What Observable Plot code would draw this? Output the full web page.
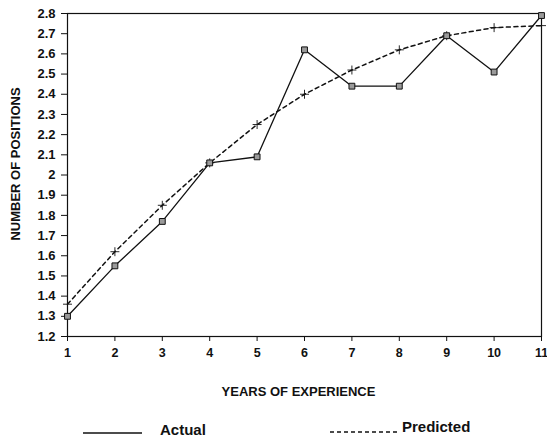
<!DOCTYPE html>
<html>
<head>
<meta charset="utf-8">
<script src="https://cdn.jsdelivr.net/npm/d3@7"></script>
<script src="https://cdn.jsdelivr.net/npm/@observablehq/plot@0.6"></script>
<style>
  html, body { margin: 0; padding: 0; background: #fff; }
  #wrap { position: relative; width: 547px; height: 438px; font-family: "Liberation Sans", Arial, sans-serif; }
  .lg { position: absolute; font-weight: bold; font-size: 15px; color: #111; }
  #wrap svg g[aria-label="y-axis tick label"] text { font-size: 13px; }
</style>
</head>
<body>
<div id="wrap"></div>
<script>
const years = [1, 2, 3, 4, 5, 6, 7, 8, 9, 10, 11];
const actual = [1.30, 1.55, 1.77, 2.06, 2.09, 2.62, 2.44, 2.44, 2.69, 2.51, 2.79];
const predicted = [1.36, 1.62, 1.85, 2.06, 2.25, 2.40, 2.52, 2.62, 2.69, 2.73, 2.74];
const yTicks = [1.2, 1.3, 1.4, 1.5, 1.6, 1.7, 1.8, 1.9, 2.0, 2.1, 2.2, 2.3, 2.4, 2.5, 2.6, 2.7, 2.8];
const xTicks = [1, 2, 3, 4, 5, 6, 7, 8, 9, 10, 11];
const xTitle = "YEARS OF EXPERIENCE";
const yTitle = "NUMBER OF POSITIONS";
const seriesNames = ["Actual", "Predicted"];

const actualData = years.map((x, i) => ({x, y: actual[i]}));
const predData = years.map((x, i) => ({x, y: predicted[i]}));

const chart = Plot.plot({
  width: 547,
  height: 410,
  marginLeft: 67,
  marginRight: 6,
  marginTop: 13,
  marginBottom: 74,
  style: {fontFamily: "'Liberation Sans', Arial, sans-serif", fontSize: "12.5px", fontWeight: "bold", color: "#111", background: "#fff"},
  x: {domain: [1, 11], ticks: xTicks, tickSize: 5, tickPadding: 7, label: null, tickFormat: d => String(d)},
  y: {domain: [1.2, 2.8], ticks: yTicks, tickSize: 6, tickPadding: 6, label: null, tickFormat: d => String(+d.toFixed(1))},
  marks: [
    Plot.frame({stroke: "#111", strokeWidth: 1.2}),
    Plot.line(predData, {x: "x", y: "y", stroke: "#111", strokeWidth: 1.5, strokeDasharray: "4,3.5", curve: "linear"}),
    Plot.dot(predData, {x: "x", y: "y", symbol: "plus", r: 3, stroke: "#111", strokeWidth: 0.9}),
    Plot.line(actualData, {x: "x", y: "y", stroke: "#111", strokeWidth: 1.3}),
    Plot.dot(actualData, {x: "x", y: "y", symbol: "square", r: 3.3, fill: "#9a9a9a", stroke: "#111", strokeWidth: 1}),
    Plot.text([xTitle], {frameAnchor: "bottom", dx: -6, dy: 59, text: d => d, fontSize: 13, fontWeight: "bold", fill: "#111"}),
    Plot.text([yTitle], {frameAnchor: "left", textAnchor: "middle", dx: -52, dy: -11, rotate: -90, text: d => d, fontSize: 13, fontWeight: "bold", fill: "#111"})
  ]
});
const wrap = document.getElementById("wrap");
wrap.appendChild(chart);

// Legend (HTML, below the SVG)
const legend = [
  {name: seriesNames[0], dash: null, x1: 83, x2: 142, ly: 433, tx: 160, ty: 421},
  {name: seriesNames[1], dash: "4,3", x1: 330, x2: 397, ly: 432, tx: 402, ty: 418}
];
legend.forEach(l => {
  const s = d3.create("svg").attr("width", l.x2 - l.x1).attr("height", 4)
    .style("position", "absolute").style("left", l.x1 + "px").style("top", (l.ly - 2) + "px");
  s.append("line").attr("x1", 0).attr("x2", l.x2 - l.x1).attr("y1", 2).attr("y2", 2)
    .attr("stroke", "#111").attr("stroke-width", 1.5).attr("stroke-dasharray", l.dash);
  wrap.appendChild(s.node());
  const t = document.createElement("div");
  t.className = "lg";
  t.style.left = l.tx + "px";
  t.style.top = l.ty + "px";
  t.textContent = l.name;
  wrap.appendChild(t);
});
</script>
</body>
</html>
